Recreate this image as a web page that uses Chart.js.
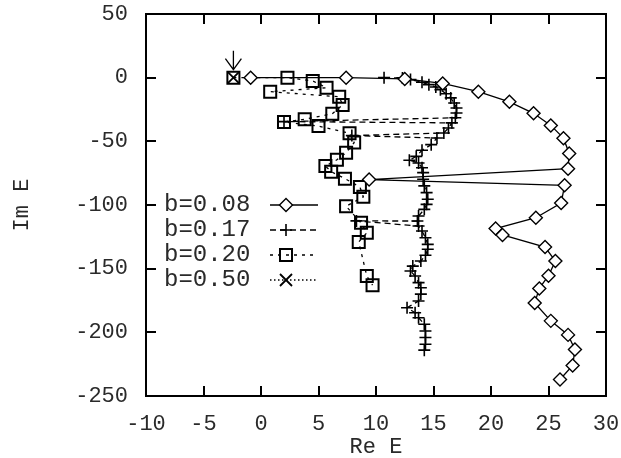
<!DOCTYPE html>
<html>
<head>
<meta charset="utf-8">
<script src="https://cdn.jsdelivr.net/npm/chart.js@4/dist/chart.umd.min.js"></script>
<style>
  html, body { margin: 0; padding: 0; background: #fff; }
  #wrap { width: 621px; height: 458px; }
</style>
</head>
<body>
<div id="wrap"><canvas id="c" width="621" height="458"></canvas></div>
<script>
// Resonance trajectories in the complex energy plane (Re E, Im E)
const re008 = [-0.9, 7.4, 12.5, 15.8, 18.9, 21.6, 23.7, 25.2, 26.3, 26.8, 26.7, 9.4, 26.4, 26.1, 23.9, 20.4, 21.0, 24.7, 25.6, 25.0, 24.2, 23.8, 25.2, 26.7, 27.3, 27.1, 26.0];
const im008 = [0, 0, -1, -4.5, -11, -19, -28, -37.5, -47.5, -59.5, -71.5, -80, -84.5, -98.5, -110, -118.5, -123.5, -133, -144, -155.5, -165.5, -177, -191, -202, -213.5, -226, -237];

const re017 = [10.7, 12.3, 13.0, 14.0, 14.6, 15.2, 15.6, 16.1, 16.5, 16.8, 17.0, 17.0, 16.9, 2.0, 16.6, 16.3, 15.9, 7.9, 15.3, 14.8,
               14.0, 13.5, 12.9, 13.7, 14.0, 14.1, 14.1, 14.2, 14.4, 14.5, 14.4, 14.2, 13.7, 13.6, 8.3, 13.7, 14.0, 14.3, 14.5, 14.5,
               14.3, 13.9, 13.2, 13.0, 13.4, 13.7, 13.9, 13.9, 13.7, 12.7, 13.4, 13.7, 14.2, 14.3, 14.3, 14.3, 14.2];
const im017 = [0, -0.2, -1.5, -3.6, -5.5, -7.3, -9.4, -12.6, -15.9, -19.9, -23.8, -27.7, -31.5, -34.5, -35.5, -39.5, -43.4, -45.5, -47.4, -52.6,
               -57, -61.8, -64.9, -67, -70.7, -74.6, -79.8, -85, -90.3, -95.5, -99.5, -103.4, -108.6, -112.6, -112.5, -116.5, -120.4, -125.7, -130.9, -134.8,
               -139.5, -144, -148, -151.8, -155.8, -161, -165, -170, -175.4, -180.7, -184.6, -188.5, -193.7, -199, -204, -209.4, -214];

const re020 = [-2.4, 2.3, 4.5, 5.7, 0.8, 6.8, 7.1, 6.2, 3.8, 2.0, 5.0, 7.7, 8.1, 7.4, 6.6, 5.6, 6.1, 7.3, 8.6, 8.9, 7.4, 8.7, 9.2, 8.5, 9.2, 9.7];
const im020 = [0, 0, -2.6, -7.9, -11, -15, -21.4, -28.3, -32.7, -34.8, -38, -43.7, -51, -59, -64.5, -69.4, -73.8, -79.3, -85.8, -93.6, -101, -114, -121.8, -129, -155.8, -163];

const re050 = [-2.4];
const im050 = [0];

const seriesLabels = ['b=0.08', 'b=0.17', 'b=0.20', 'b=0.50'];
const xTicks = [-10, -5, 0, 5, 10, 15, 20, 25, 30];
const yTicks = [50, 0, -50, -100, -150, -200, -250];

const pts = (xs, ys) => xs.map((x, i) => ({ x: x, y: ys[i] }));

const FONT = "'Liberation Mono', 'DejaVu Sans Mono', monospace";
const INK = '#000';
const TXT = '#2a2a2a';

const datasets = [
  { label: seriesLabels[0], data: pts(re008, im008), borderColor: INK, borderWidth: 1.3, borderDash: [],
    pointStyle: 'rectRot', pointRadius: 6.5, pointBorderWidth: 1.4, pointBorderColor: INK, pointBackgroundColor: '#fff' },
  { label: seriesLabels[1], data: pts(re017, im017), borderColor: INK, borderWidth: 1.3, borderDash: [6, 4],
    pointStyle: 'cross', pointRadius: 6, pointBorderWidth: 1.6, pointBorderColor: INK, pointBackgroundColor: 'rgba(0,0,0,0)' },
  { label: seriesLabels[2], data: pts(re020, im020), borderColor: INK, borderWidth: 1.3, borderDash: [3, 5],
    pointStyle: 'rect', pointRadius: 8.5, pointBorderWidth: 2, pointBorderColor: INK, pointBackgroundColor: 'rgba(0,0,0,0)' },
  { label: seriesLabels[3], data: pts(re050, im050), borderColor: INK, borderWidth: 1.3, borderDash: [1.5, 2.5],
    pointStyle: 'crossRot', pointRadius: 8.5, pointBorderWidth: 1.8, pointBorderColor: INK, pointBackgroundColor: 'rgba(0,0,0,0)' }
].map(d => Object.assign(d, { showLine: true, tension: 0, fill: false }));

// Boxed frame with inward tick marks on all four sides
const framePlugin = {
  id: 'frame',
  afterDraw(chart) {
    const { ctx, chartArea: a, scales: { x, y } } = chart;
    ctx.save();
    ctx.strokeStyle = INK;
    ctx.lineWidth = 2;
    ctx.setLineDash([]);
    ctx.strokeRect(a.left, a.top, a.right - a.left, a.bottom - a.top);
    const L = 10;
    ctx.beginPath();
    xTicks.forEach(v => {
      const px = Math.round(x.getPixelForValue(v));
      ctx.moveTo(px, a.bottom); ctx.lineTo(px, a.bottom - L);
      ctx.moveTo(px, a.top); ctx.lineTo(px, a.top + L);
    });
    yTicks.forEach(v => {
      const py = Math.round(y.getPixelForValue(v));
      ctx.moveTo(a.left, py); ctx.lineTo(a.left + L, py);
      ctx.moveTo(a.right, py); ctx.lineTo(a.right - L, py);
    });
    ctx.stroke();
    ctx.restore();
  }
};

// Key inside the plot: label, then a line sample with its marker
const keyPlugin = {
  id: 'key',
  afterDraw(chart) {
    const { ctx, chartArea: a } = chart;
    ctx.save();
    ctx.font = '24px ' + FONT;
    ctx.textBaseline = 'middle';
    ctx.textAlign = 'left';
    chart.data.datasets.forEach((ds, i) => {
      const yy = a.top + 191 + i * 25;
      ctx.fillStyle = TXT;
      ctx.fillText(ds.label, a.left + 18, yy);
      ctx.strokeStyle = ds.borderColor;
      ctx.lineWidth = ds.borderWidth;
      ctx.setLineDash(ds.borderDash);
      ctx.beginPath();
      ctx.moveTo(a.left + 124, yy);
      ctx.lineTo(a.left + 172, yy);
      ctx.stroke();
      ctx.setLineDash([]);
      ctx.fillStyle = ds.pointBackgroundColor;
      ctx.strokeStyle = ds.pointBorderColor;
      ctx.lineWidth = ds.pointBorderWidth;
      Chart.helpers.drawPoint(ctx, { pointStyle: ds.pointStyle, radius: ds.pointRadius, rotation: 0, borderWidth: ds.pointBorderWidth }, a.left + 140, yy);
    });
    ctx.restore();
  }
};

// Arrow pointing down at the b=0.50 state
const arrowPlugin = {
  id: 'arrow',
  afterDraw(chart) {
    const { ctx, scales: { x, y } } = chart;
    const px = x.getPixelForValue(re050[0]);
    const tip = y.getPixelForValue(im050[0]) - 8;
    ctx.save();
    ctx.strokeStyle = INK;
    ctx.lineWidth = 1.3;
    ctx.setLineDash([]);
    ctx.beginPath();
    ctx.moveTo(px, tip - 19); ctx.lineTo(px, tip);
    ctx.moveTo(px - 8, tip - 11); ctx.lineTo(px, tip); ctx.lineTo(px + 8, tip - 11);
    ctx.stroke();
    ctx.restore();
  }
};

// Fixed plot box: axes keep their own size and add no label overhang
const fitX = s => { s.height = 62; s.paddingLeft = 0; s.paddingRight = 0; s.paddingTop = 0; s.paddingBottom = 0; };
const fitY = s => { s.width = 146; s.paddingLeft = 0; s.paddingRight = 0; s.paddingTop = 0; s.paddingBottom = 0; };

new Chart(document.getElementById('c'), {
  type: 'scatter',
  data: { datasets },
  options: {
    responsive: false,
    animation: false,
    devicePixelRatio: 1,
    layout: { padding: { top: 14, right: 15, left: 0, bottom: 0 } },
    plugins: { legend: { display: false }, tooltip: { enabled: false } },
    scales: {
      x: {
        type: 'linear', min: -10, max: 30,
        afterFit: fitX,
        afterBuildTicks: s => { s.ticks = xTicks.map(v => ({ value: v })); },
        grid: { display: false, drawTicks: false },
        border: { display: false },
        ticks: { color: TXT, padding: 15, maxRotation: 0, autoSkip: false, font: { family: FONT, size: 22 } },
        title: { display: true, text: 'Re E', color: TXT, font: { family: FONT, size: 22, lineHeight: 1 }, padding: { top: 0, bottom: 0 } }
      },
      y: {
        type: 'linear', min: -250, max: 50,
        afterFit: fitY,
        afterBuildTicks: s => { s.ticks = yTicks.map(v => ({ value: v })); },
        grid: { display: false, drawTicks: false },
        border: { display: false },
        ticks: { color: TXT, padding: 18, autoSkip: false, font: { family: FONT, size: 22 } },
        title: { display: true, text: 'Im E', color: TXT, font: { family: FONT, size: 22, lineHeight: 1 }, padding: { top: 11, bottom: 0 } }
      }
    }
  },
  plugins: [framePlugin, keyPlugin, arrowPlugin]
});
</script>
</body>
</html>
